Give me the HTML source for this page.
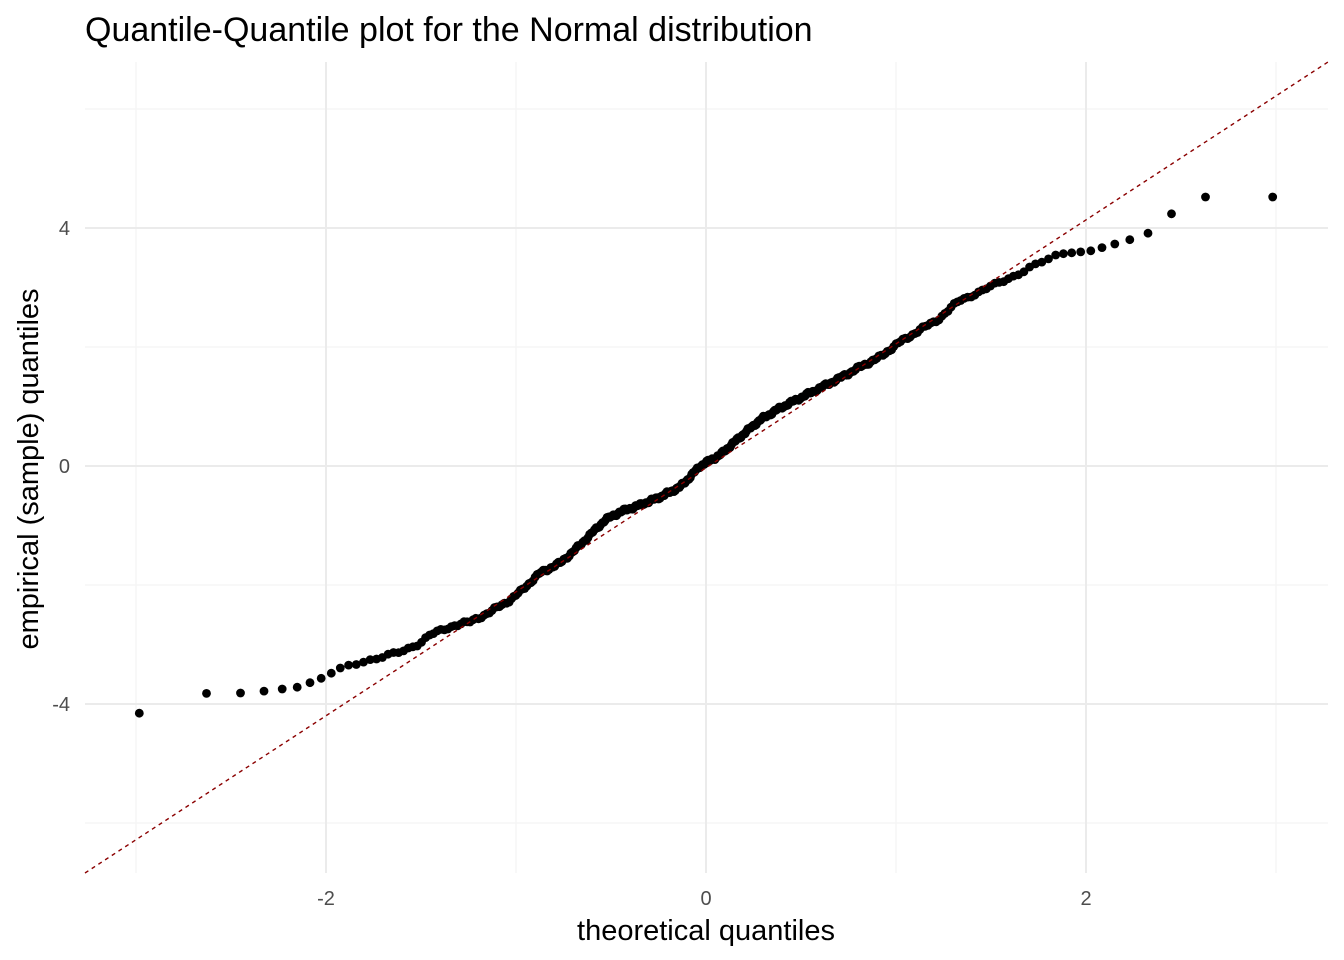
<!DOCTYPE html>
<html><head><meta charset="utf-8"><style>
html,body{margin:0;padding:0;background:#fff;}
svg{display:block;font-family:"Liberation Sans",Arial,sans-serif;}
</style></head><body>
<svg id="s" width="1344" height="960" viewBox="0 0 1344 960" xmlns="http://www.w3.org/2000/svg">
<g stroke="#f4f4f4" stroke-width="1.2">
<line x1="136" y1="62" x2="136" y2="873"/><line x1="516" y1="62" x2="516" y2="873"/><line x1="896" y1="62" x2="896" y2="873"/><line x1="1276" y1="62" x2="1276" y2="873"/>
<line x1="85" y1="109" x2="1328" y2="109"/><line x1="85" y1="347" x2="1328" y2="347"/><line x1="85" y1="585" x2="1328" y2="585"/><line x1="85" y1="823" x2="1328" y2="823"/>
</g>
<g stroke="#ebebeb" stroke-width="2">
<line x1="326" y1="62" x2="326" y2="873"/><line x1="706" y1="62" x2="706" y2="873"/><line x1="1086" y1="62" x2="1086" y2="873"/>
<line x1="85" y1="228" x2="1328" y2="228"/><line x1="85" y1="466" x2="1328" y2="466"/><line x1="85" y1="704" x2="1328" y2="704"/>
</g>
<g id="pts" fill="#000"></g>
<line x1="85" y1="873" x2="1328" y2="62" stroke="#8b0000" stroke-width="1.4" stroke-dasharray="4,4"/>
<text x="85" y="41" font-size="34" fill="#000">Quantile-Quantile plot for the Normal distribution</text>
<g font-size="20" fill="#4d4d4d" text-anchor="middle">
<text x="326" y="905">-2</text><text x="706" y="905">0</text><text x="1086" y="905">2</text>
</g>
<g font-size="20" fill="#4d4d4d" text-anchor="end">
<text x="70" y="235">4</text><text x="70" y="473">0</text><text x="70" y="711">-4</text>
</g>
<text x="706" y="940" font-size="29" text-anchor="middle" fill="#000">theoretical quantiles</text>
<text transform="translate(38,469) rotate(-90)" font-size="29" text-anchor="middle" fill="#000">empirical (sample) quantiles</text>
</svg>
<script>
function qn(p){var a=[-39.69683028665376,220.9460984245205,-275.9285104469687,138.357751867269,-30.66479806614716,2.506628277459239],b=[-54.47609879822406,161.5858368580409,-155.6989798598866,66.80131188771972,-13.28068155288572],c=[-0.007784894002430293,-0.3223964580411365,-2.400758277161838,-2.549732539343734,4.374664141464968,2.938163982698783],d=[0.007784695709041462,0.3224671290700398,2.445134137142996,3.754408661907416];var q,r;if(p<0.02425){q=Math.sqrt(-2*Math.log(p));return(((((c[0]*q+c[1])*q+c[2])*q+c[3])*q+c[4])*q+c[5])/((((d[0]*q+d[1])*q+d[2])*q+d[3])*q+1);}if(p>1-0.02425){q=Math.sqrt(-2*Math.log(1-p));return-(((((c[0]*q+c[1])*q+c[2])*q+c[3])*q+c[4])*q+c[5])/((((d[0]*q+d[1])*q+d[2])*q+d[3])*q+1);}q=p-0.5;r=q*q;return(((((a[0]*r+a[1])*r+a[2])*r+a[3])*r+a[4])*r+a[5])*q/(((((b[0]*r+b[1])*r+b[2])*r+b[3])*r+b[4])*r+1);}
var K=[[140,713],[208,693],[242,693],[265,691],[299,687],[322,678],[350,664],[380,658],[400,652],[420,643],[430,635],[455,625],[470,622],[490,612],[510,600],[520,592],[540,573],[560,563],[575,550],[590,535],[605,520],[620,512],[640,505],[660,497],[680,487],[690,477],[700,466],[720,455],[740,437],[760,420],[780,408],[800,398],[820,388],[840,378],[860,367],[880,357],[900,342],[920,330],[940,318],[960,300],[980,292],[1000,282],[1020,273],[1040,263],[1060,254],[1090,251],[1129,240],[1147,234],[1171,214],[1205,197],[1272,197]];
function f(x){for(var i=0;i<K.length-1;i++){if(x<=K[i+1][0]){var t=(x-K[i][0])/(K[i+1][0]-K[i][0]);return K[i][1]+t*(K[i+1][1]-K[i][1]);}}return K[K.length-1][1];}
var n=350,g=document.getElementById('pts'),h='';
for(var i=1;i<=n;i++){var x=706+190*qn((i-0.5)/n);var j=(x>330&&x<1060)?(Math.sin(i*1.7)+Math.sin(i*0.63))*0.9:0;h+='<circle cx="'+x.toFixed(1)+'" cy="'+(f(x)+j).toFixed(1)+'" r="4.4"/>';}
g.innerHTML=h;
</script>
</body></html>
